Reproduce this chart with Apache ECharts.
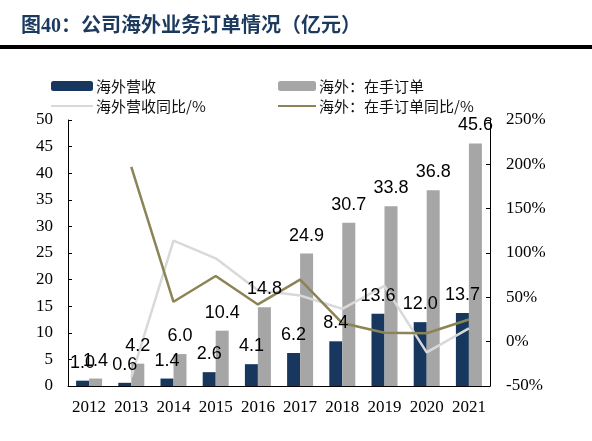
<!DOCTYPE html>
<html>
<head>
<meta charset="utf-8">
<script src="https://cdn.jsdelivr.net/npm/echarts@6/dist/echarts.min.js"></script>
<style>
html,body{margin:0;padding:0;background:#fff;}
#c{width:592px;height:441px;}
</style>
</head>
<body>
<div id="c"></div>
<script>
const categories = ['2012','2013','2014','2015','2016','2017','2018','2019','2020','2021'];
const revenue = [1.0,0.6,1.4,2.6,4.1,6.2,8.4,13.6,12.0,13.7];
const orders = [1.4,4.2,6.0,10.4,14.8,24.9,30.7,33.8,36.8,45.6];
const revenueYoY = [null,-40,114,94,58,52,37,63,-12,15];
const ordersYoY = [null,197,45,74,42,70,21,10,9.5,25];

const NAVY = '#17375e', GRAY = '#a6a6a6', LGRAY = '#d9d9d9', GOLD = '#8c8456';
const serif = '"Liberation Serif","Times New Roman",serif';
const sans = '"Liberation Sans",Arial,sans-serif';
const cjk = '"Noto Sans CJK SC",sans-serif';

const chart = echarts.init(document.getElementById('c'));
const lblStyle = {show:true, position:'top', distance:9, color:'#000', fontFamily:sans, fontSize:18,
  formatter: p => p.value.toFixed(1)};
const hideSym = {color:'rgba(0,0,0,0)', borderWidth:0, opacity:0};
const clear = {color:'rgba(0,0,0,0)'};
chart.setOption({
  animation:false,
  backgroundColor:'#fff',
  title:{text:'图40：公司海外业务订单情况（亿元）', left:16, top:12,
    textStyle:{fontFamily:'"Liberation Serif","Noto Sans CJK SC",serif', fontWeight:'bold', fontSize:20, color:'#1b3a5e'}},
  graphic:[{type:'rect', shape:{x:0,y:45,width:592,height:4}, style:{fill:'#000'}}],
  legend:[
    {orient:'vertical', left:45, top:73, itemWidth:42, itemHeight:10, itemGap:4,
     textStyle:{fontFamily:cjk, fontSize:15, color:'#111', lineHeight:16, padding:[0,0,0,-2]},
     data:['海外营收',{name:'海外营收同比/%', itemStyle:hideSym}]},
    {orient:'vertical', left:272, top:73, itemWidth:38, itemHeight:10, itemGap:4,
     textStyle:{fontFamily:cjk, fontSize:15, color:'#111', lineHeight:16, padding:[0,0,0,-2]},
     data:['海外：在手订单',{name:'海外：在手订单同比/%', itemStyle:hideSym}]}
  ],
  grid:{left:68, right:102, top:120, bottom:55},
  xAxis:[
    {type:'category', data:categories,
    axisLine:{lineStyle:{color:'#000', width:1}},
    axisTick:{inside:true, length:4, lineStyle:{color:'#000'}},
    axisLabel:{interval:0, color:'#000', fontFamily:serif, fontSize:17, margin:13}},
    {type:'category', data:categories, position:'bottom', show:false}
  ],
  yAxis:[
    {type:'value', min:0, max:50, interval:5, splitLine:{show:false},
     axisLine:{show:true, lineStyle:{color:'#000'}},
     axisTick:{show:true, inside:true, length:4, lineStyle:{color:'#000'}},
     axisLabel:{color:'#000', fontFamily:serif, fontSize:17, margin:15}},
    {type:'value', min:-50, max:250, interval:50, splitLine:{show:false},
     axisLine:{show:true, lineStyle:{color:'#000'}},
     axisTick:{show:true, inside:true, length:4, lineStyle:{color:'#000'}},
     axisLabel:{color:'#000', fontFamily:serif, fontSize:17, margin:16, formatter:'{value}%'}}
  ],
  series:[
    {name:'海外营收', type:'bar', data:revenue, barWidth:13, barGap:'0%', itemStyle:{color:NAVY}, z:2},
    {name:'海外：在手订单', type:'bar', data:orders, barWidth:13, barGap:'0%', itemStyle:{color:GRAY}, z:2},
    {name:'海外营收同比/%', type:'line', yAxisIndex:1, data:revenueYoY, symbol:'none', connectNulls:false,
     lineStyle:{color:LGRAY, width:2.5}, itemStyle:{color:LGRAY}, z:3},
    {name:'海外：在手订单同比/%', type:'line', yAxisIndex:1, data:ordersYoY, symbol:'none',
     lineStyle:{color:GOLD, width:2.5}, itemStyle:{color:GOLD}, z:4},
    {name:'lblRev', type:'bar', xAxisIndex:1, data:revenue, barWidth:13, barGap:'0%', itemStyle:clear, label:lblStyle, z:6, silent:true},
    {name:'lblOrd', type:'bar', xAxisIndex:1, data:orders, barWidth:13, barGap:'0%', itemStyle:clear, label:lblStyle, z:6, silent:true}
  ]
});
</script>
</body>
</html>
